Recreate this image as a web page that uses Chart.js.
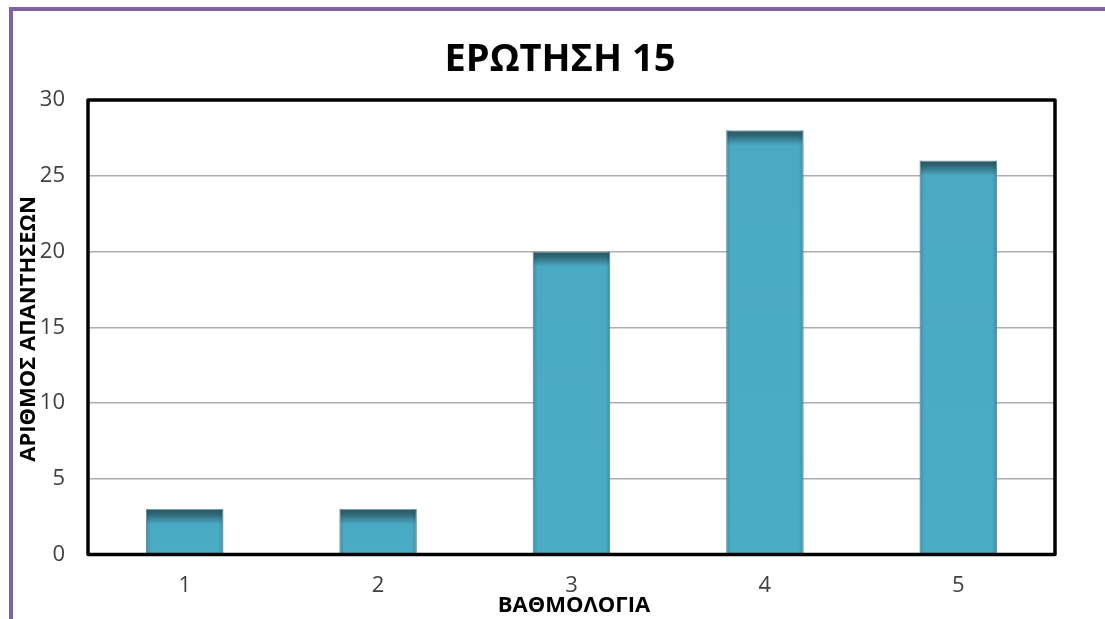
<!DOCTYPE html>
<html>
<head>
<meta charset="utf-8">
<title>ΕΡΩΤΗΣΗ 15</title>
<script src="https://cdn.jsdelivr.net/npm/chart.js@4/dist/chart.umd.min.js"></script>
<style>
  html, body { margin: 0; padding: 0; background: #ffffff; }
  #wrap { position: relative; width: 1105px; height: 619px; overflow: hidden; }
  #frame {
    position: absolute; left: 9px; top: 7px; width: 1200px; height: 700px;
    border-left: 4px solid #8064A2; border-top: 4px solid #8064A2;
  }
  #chart { position: absolute; left: 0; top: 0; }
</style>
</head>
<body>
<div id="wrap">
  <div id="frame"></div>
  <canvas id="chart" width="1105" height="619"></canvas>
</div>
<script>
// Question 15: number of answers per rating
const chartTitle = 'ΕΡΩΤΗΣΗ 15';
const xAxisTitle = 'ΒΑΘΜΟΛΟΓΙΑ';
const yAxisTitle = 'ΑΡΙΘΜΟΣ ΑΠΑΝΤΗΣΕΩΝ';
const ratings = ['1', '2', '3', '4', '5'];
const answers = [3, 3, 20, 28, 26];
const yTicks = [0, 5, 10, 15, 20, 25, 30];

const FONT = '"Open Sans", "Noto Sans", sans-serif';

// Bars: dark cap fading into the main teal
function barFill(ctx) {
  const chart = ctx.chart;
  if (!chart.chartArea || ctx.type !== 'data') return '#4BACC6';
  const y = chart.scales.y;
  const top = y.getPixelForValue(ctx.raw);
  const base = y.getPixelForValue(0);
  const h = Math.max(base - top, 1);
  const g = chart.ctx.createLinearGradient(0, top, 0, base);
  g.addColorStop(0, '#2A5766');
  g.addColorStop(Math.min(5 / h, 1), '#2F6574');
  g.addColorStop(Math.min(15 / h, 1), '#4AAAC4');
  g.addColorStop(1, '#4BACC6');
  return g;
}

// Soft darkening along the bar sides
const barSides = {
  id: 'barSides',
  afterDatasetsDraw(chart) {
    const c = chart.ctx;
    chart.getDatasetMeta(0).data.forEach(bar => {
      const left = bar.x - bar.width / 2, right = bar.x + bar.width / 2;
      const top = bar.y, bottom = bar.base;
      const gl = c.createLinearGradient(left, 0, left + 5, 0);
      gl.addColorStop(0, 'rgba(20,60,75,0.25)');
      gl.addColorStop(1, 'rgba(20,60,75,0)');
      c.fillStyle = gl;
      c.fillRect(left, top, 5, bottom - top);
      const gr = c.createLinearGradient(right, 0, right - 5, 0);
      gr.addColorStop(0, 'rgba(20,60,75,0.25)');
      gr.addColorStop(1, 'rgba(20,60,75,0)');
      c.fillStyle = gr;
      c.fillRect(right - 5, top, 5, bottom - top);
    });
  }
};

// Black frame round the plot area
const plotFrame = {
  id: 'plotFrame',
  afterDatasetsDraw(chart) {
    const {left, top, right, bottom} = chart.chartArea;
    const c = chart.ctx;
    c.save();
    c.strokeStyle = '#000000';
    c.lineWidth = 3.5;
    c.lineJoin = 'round';
    c.strokeRect(left, top, right - left, bottom - top);
    c.restore();
  }
};

// Title and axis titles
const chartTexts = {
  id: 'chartTexts',
  afterDraw(chart) {
    const c = chart.ctx;
    c.save();
    c.fillStyle = '#000000';
    c.textAlign = 'center';
    c.textBaseline = 'middle';
    c.font = 'bold 38px ' + FONT;
    c.fillText(chartTitle, 560, 60);
    c.font = 'bold 22px ' + FONT;
    c.fillText(xAxisTitle, 574, 606);
    c.translate(29, 329);
    c.rotate(-Math.PI / 2);
    c.fillText(yAxisTitle, 0, 0);
    c.restore();
  }
};

new Chart(document.getElementById('chart'), {
  type: 'bar',
  data: {
    labels: ratings,
    datasets: [{
      data: answers,
      backgroundColor: barFill,
      borderColor: 'rgba(110,155,170,0.9)',
      borderWidth: 1,
      borderSkipped: 'bottom',
      barPercentage: 0.4,
      categoryPercentage: 1.0
    }]
  },
  options: {
    responsive: false,
    animation: false,
    devicePixelRatio: 1,
    layout: { padding: { left: 0, top: 100, right: 50, bottom: 0 } },
    plugins: {
      legend: { display: false },
      title: { display: false },
      tooltip: { enabled: false }
    },
    scales: {
      x: {
        grid: { display: false, drawTicks: false },
        border: { display: false },
        ticks: { color: '#404040', font: { family: FONT, size: 22 }, padding: 18 },
        afterFit(s) { s.height = 64.5; }
      },
      y: {
        min: yTicks[0],
        max: yTicks[yTicks.length - 1],
        afterBuildTicks(s) { s.ticks = yTicks.map(v => ({ value: v })); },
        grid: { color: '#ADADAD', lineWidth: 1.5, drawTicks: false },
        border: { display: false },
        ticks: { color: '#404040', font: { family: FONT, size: 22 }, padding: 23 },
        afterFit(s) { s.width = 88; }
      }
    }
  },
  plugins: [barSides, plotFrame, chartTexts]
});
</script>
</body>
</html>
